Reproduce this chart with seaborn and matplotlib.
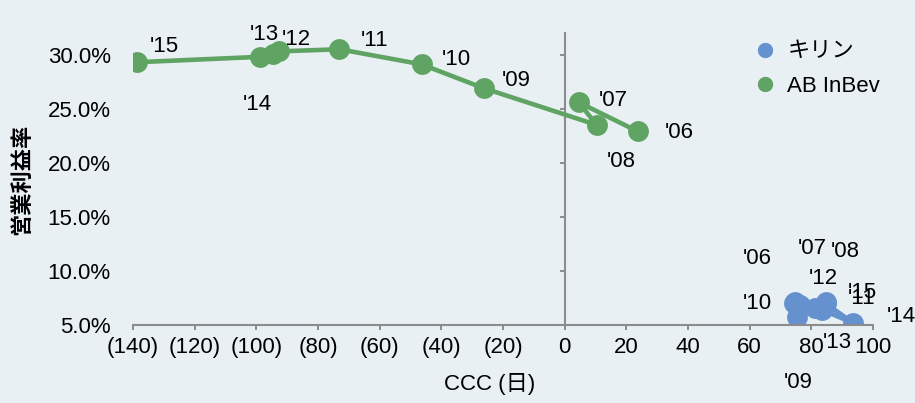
import numpy as np
import pandas as pd
import matplotlib
matplotlib.use("Agg")
import matplotlib.pyplot as plt
from matplotlib.lines import Line2D
from matplotlib.ticker import PercentFormatter, FuncFormatter, NullFormatter
import seaborn as sns

# ---- data ----
years = ["'06", "'07", "'08", "'09", "'10", "'11", "'12", "'13", "'14", "'15"]
kirin_ccc = [74.4, 76.3, 84.7, 75.3, 74.7, 84.4, 81.2, 83.4, 93.5, 84.7]
kirin_margin = [0.070, 0.0685, 0.071, 0.057, 0.071, 0.0685, 0.066, 0.064, 0.052, 0.070]
abi_ccc = [23.7, 4.5, 10.4, -26.3, -46.4, -73.1, -92.5, -94.5, -98.7, -138.6]
abi_margin = [0.229, 0.256, 0.235, 0.269, 0.291, 0.305, 0.303, 0.301, 0.298, 0.293]
companies = ["キリン", "AB InBev"]

# label offsets (points) for the data labels, placed by hand like the original
kirin_off = [(-26.6, 32.4), (8.6, 41), (13.7, 36.7), (0.7, -46.8), (-27.4, -0.7),
             (26.6, 5), (5.8, 20.9), (10.8, -23.8), (34.6, 4.3), (26.6, 7.9)]
abi_off = [(30, -0.7), (25, 1.4), (18, -26.6), (23.8, 5.8), (25, 3.6),
           (25.2, 6.5), (12.2, 8.6), (-6.5, 13.7), (-2, -34.6), (19.4, 11.5)]

BG = "#E9F0F4"
GREEN = "#5FA462"
BLUE = "#6591CF"
GRAY = "#8C8C8C"
colors = {"キリン": BLUE, "AB InBev": GREEN}
FS = 16

df = pd.concat([
    pd.DataFrame({"company": "AB InBev", "year": years, "ccc": abi_ccc, "margin": abi_margin}),
    pd.DataFrame({"company": "キリン", "year": years, "ccc": kirin_ccc, "margin": kirin_margin}),
], ignore_index=True)

sns.set_theme(style="white")
plt.rcParams["font.family"] = ["Liberation Sans", "Noto Sans CJK JP", "DejaVu Sans"]
plt.rcParams["text.color"] = "black"
plt.rcParams["axes.labelcolor"] = "black"
plt.rcParams["xtick.labelcolor"] = "black"
plt.rcParams["ytick.labelcolor"] = "black"

fig = plt.figure(figsize=(9.15, 4.03), dpi=100, facecolor=BG)
ax = fig.add_axes([0.1454, 0.1935, 0.8087, 0.7246])
ax.set_facecolor(BG)

sns.lineplot(data=df, x="ccc", y="margin", hue="company", palette=colors,
             sort=False, estimator=None, marker="o", markersize=15,
             markeredgewidth=0, linewidth=3.3, legend=False, ax=ax)

for comp, offs in [("AB InBev", abi_off), ("キリン", kirin_off)]:
    sub = df[df["company"] == comp].reset_index(drop=True)
    for i, row in sub.iterrows():
        ax.annotate(row["year"], (row["ccc"], row["margin"]), xytext=offs[i],
                    textcoords="offset points", ha="center", va="center",
                    fontsize=FS, color="black")

ax.set_xlim(-140, 100)
ax.set_ylim(0.05, 0.32)
ax.set_xticks(np.arange(-140, 101, 20))
ax.set_yticks(np.arange(0.05, 0.301, 0.05))
ax.xaxis.set_major_formatter(FuncFormatter(lambda v, p: f"({abs(v):.0f})" if v < 0 else f"{v:.0f}"))
ax.yaxis.set_major_formatter(PercentFormatter(1, decimals=1))

for s in ["top", "right", "left"]:
    ax.spines[s].set_visible(False)
ax.spines["bottom"].set_color(GRAY)
ax.spines["bottom"].set_linewidth(1.5)
ax.tick_params(axis="x", direction="out", length=3.6, width=1.4, color=GRAY,
               labelsize=FS, pad=5, bottom=True)
ax.tick_params(axis="y", length=0, labelsize=FS, pad=16, left=True)

# vertical axis line crossing at x = 0
yax = ax.secondary_yaxis(140 / 240)
for s in yax.spines.values():
    s.set_color(GRAY)
    s.set_linewidth(1.5)
yax.yaxis.set_ticks_position("left")
yax.set_yticks(np.arange(0.05, 0.301, 0.05))
yax.yaxis.set_major_formatter(NullFormatter())
yax.tick_params(axis="y", direction="out", length=3.6, width=1.4, color=GRAY,
                labelleft=False, labelright=False)

ax.set_xlabel("CCC (日)", fontsize=FS)
ax.xaxis.set_label_coords(0.482, -0.165)
ax.set_ylabel("営業利益率", fontsize=FS, fontweight="bold")
ax.yaxis.set_label_coords(-0.135, 0.5)

handles = [Line2D([], [], marker="o", ls="", color=colors[c], markersize=10) for c in companies]
leg = ax.legend(handles, companies, loc="upper left", bbox_to_anchor=(0.815, 1.04),
                frameon=False, fontsize=FS, handlelength=0.8, handletextpad=0.6,
                labelspacing=0.6)

fig.savefig("out.png", dpi=100, facecolor=BG)
